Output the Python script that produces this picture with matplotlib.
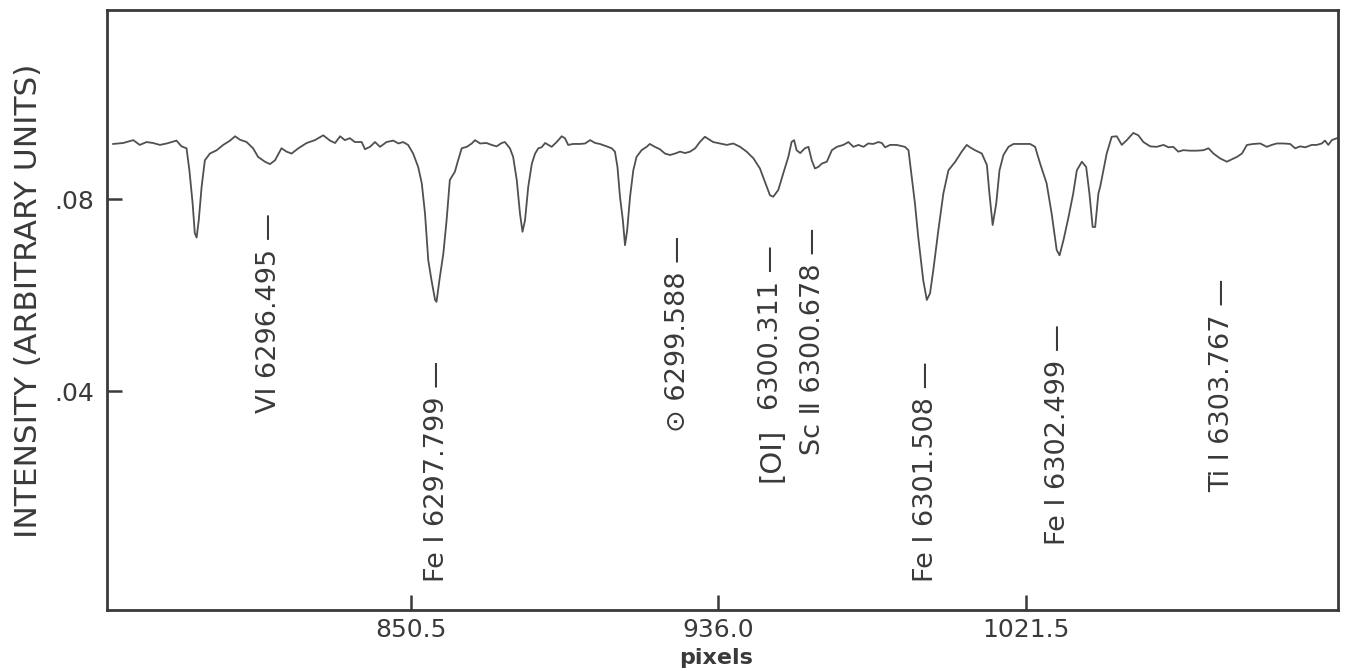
import matplotlib
matplotlib.use("Agg")
from matplotlib import pyplot as plt

# spectrum trace (detector pixel, intensity in arbitrary units)
pixel = [
    767.8, 770.6, 773.4, 775.2, 777.1, 778.9, 780.8, 782.7, 785.4, 786.8,
    788.2, 789.0, 789.9, 790.5, 791.0, 791.6, 792.4, 793.3, 794.7, 796.6,
    798.4, 800.3, 801.7, 803.0, 804.9, 806.7, 808.1, 810.0, 811.4, 812.8,
    814.6, 816.0, 817.4, 819.3,
    821.6, 823.9, 826.2, 828.1, 829.5, 830.9, 832.2, 833.6, 835.0, 836.9,
    837.8, 839.2, 840.6, 842.0, 843.8, 845.7, 847.1, 848.4, 849.8, 851.2,
    852.6, 853.6, 854.5, 855.4, 856.3, 857.3, 857.7, 858.5, 859.6, 860.5,
    861.4, 862.8, 863.7, 864.7, 866.1, 867.5, 868.4, 869.8, 871.6, 873.0,
    874.4, 875.8, 876.7,
    878.1, 879.0, 880.0, 880.9, 881.6, 882.3, 883.2, 884.2, 885.1, 886.0,
    886.9, 887.9, 888.8, 889.7, 891.1, 892.5, 893.4, 894.3, 895.7, 897.6,
    899.0, 900.4, 901.8, 903.1, 905.0, 906.4, 907.3, 908.0, 908.7, 909.5,
    910.1, 910.7, 911.5, 912.4, 913.3, 914.7, 916.1, 917.0, 918.4, 919.8,
    921.2, 922.6, 924.0, 925.4, 926.8, 928.2, 929.6, 930.9, 932.3,
    934.6, 936.5, 938.4, 940.2, 942.1, 943.9, 945.8, 947.6, 949.0, 950.4,
    951.3, 952.7, 954.1, 955.5, 956.4, 957.1, 957.8, 958.8, 960.1, 961.1,
    962.0, 962.9, 963.8, 964.8, 966.2, 967.6, 969.0, 970.8, 972.2, 973.6,
    975.0, 976.4, 977.7, 979.1, 980.5, 981.5, 982.4, 983.8, 985.6,
    987.9, 988.9, 989.8, 990.7, 991.6, 993.0, 994.0, 994.9, 995.8, 997.2,
    998.6, 1000.0, 1001.9, 1003.7, 1005.1, 1006.0, 1007.4, 1009.3, 1010.7, 1011.4,
    1012.3, 1013.3, 1014.2, 1015.3, 1016.7, 1018.1, 1019.9, 1022.7, 1024.1, 1025.5,
    1027.3, 1028.7, 1030.1, 1030.9, 1032.0, 1033.4, 1034.7, 1035.7, 1037.1, 1038.3,
    1039.2, 1040.1, 1040.8, 1041.7,
    1042.2, 1044.0, 1045.4, 1046.8, 1048.2, 1049.6, 1051.4, 1052.8, 1054.2, 1056.1,
    1057.9, 1059.8, 1061.2, 1062.5, 1063.9, 1065.3, 1067.2, 1069.1, 1070.9, 1072.3,
    1073.7, 1075.5, 1077.4, 1078.8, 1080.2, 1081.6, 1083.0, 1084.8, 1086.7, 1088.5,
    1089.9, 1091.3, 1093.1, 1095.0, 1096.4, 1097.8, 1099.2, 1101.0, 1102.4, 1103.8,
    1104.7, 1105.6, 1106.6, 1108.0,
]
intensity = [
    0.0915, 0.0917, 0.0923, 0.0913, 0.0919, 0.0917, 0.0913, 0.0916, 0.0922, 0.0910,
    0.0906, 0.0860, 0.0791, 0.0729, 0.0720, 0.0756, 0.0826, 0.0881, 0.0895, 0.0902,
    0.0913, 0.0922, 0.0931, 0.0924, 0.0919, 0.0906, 0.0888, 0.0878, 0.0873, 0.0881,
    0.0906, 0.0899, 0.0895, 0.0906,
    0.0917, 0.0923, 0.0933, 0.0922, 0.0917, 0.0931, 0.0923, 0.0927, 0.0919, 0.0919,
    0.0904, 0.0909, 0.0919, 0.0909, 0.0919, 0.0922, 0.0916, 0.0919, 0.0913, 0.0895,
    0.0867, 0.0833, 0.0770, 0.0673, 0.0631, 0.0590, 0.0586, 0.0631, 0.0687, 0.0756,
    0.0840, 0.0857, 0.0881, 0.0906, 0.0909, 0.0916, 0.0923, 0.0916, 0.0917, 0.0913,
    0.0910, 0.0917, 0.0919,
    0.0906, 0.0888, 0.0840, 0.0770, 0.0732, 0.0756, 0.0826, 0.0874, 0.0895, 0.0906,
    0.0908, 0.0917, 0.0913, 0.0909, 0.0919, 0.0931, 0.0927, 0.0913, 0.0915, 0.0915,
    0.0916, 0.0923, 0.0917, 0.0915, 0.0910, 0.0906, 0.0899, 0.0867, 0.0805, 0.0756,
    0.0704, 0.0735, 0.0805, 0.0860, 0.0888, 0.0902, 0.0909, 0.0915, 0.0909, 0.0904,
    0.0895, 0.0892, 0.0895, 0.0899, 0.0896, 0.0899, 0.0906, 0.0919, 0.0930,
    0.0919, 0.0916, 0.0913, 0.0916, 0.0909, 0.0899, 0.0885, 0.0864, 0.0836, 0.0808,
    0.0805, 0.0819, 0.0854, 0.0888, 0.0919, 0.0923, 0.0902, 0.0896, 0.0906, 0.0909,
    0.0881, 0.0864, 0.0867, 0.0874, 0.0878, 0.0902, 0.0909, 0.0913, 0.0919, 0.0909,
    0.0913, 0.0909, 0.0916, 0.0915, 0.0919, 0.0917, 0.0908, 0.0913, 0.0913,
    0.0909, 0.0902, 0.0847, 0.0791, 0.0722, 0.0631, 0.0590, 0.0604, 0.0652, 0.0735,
    0.0812, 0.0860, 0.0878, 0.0899, 0.0913, 0.0908, 0.0902, 0.0895, 0.0871, 0.0812,
    0.0746, 0.0791, 0.0860, 0.0892, 0.0909, 0.0915, 0.0915, 0.0915, 0.0909, 0.0874,
    0.0833, 0.0770, 0.0694, 0.0683, 0.0715, 0.0763, 0.0812, 0.0860, 0.0878, 0.0867,
    0.0812, 0.0742, 0.0742, 0.0812,
    0.0826, 0.0895, 0.0930, 0.0931, 0.0913, 0.0923, 0.0938, 0.0933, 0.0919, 0.0910,
    0.0909, 0.0913, 0.0908, 0.0909, 0.0899, 0.0902, 0.0901, 0.0901, 0.0902, 0.0906,
    0.0895, 0.0885, 0.0878, 0.0883, 0.0888, 0.0895, 0.0913, 0.0915, 0.0916, 0.0909,
    0.0913, 0.0916, 0.0916, 0.0915, 0.0906, 0.0910, 0.0908, 0.0913, 0.0913, 0.0916,
    0.0922, 0.0913, 0.0923, 0.0927,
]

# line identifications
line_names = ["V\u2160 6296.495 \u2014", "Fe \u2160 6297.799 \u2014", "\u2299 6299.588 \u2014",
              "6300.311 \u2014", "Sc \u2161 6300.678 \u2014", "Fe \u2160 6301.508 \u2014",
              "Fe \u2160 6302.499 \u2014", "Ti \u2160 6303.767 \u2014"]
line_pixel = [811.0, 857.8, 924.8, 950.7, 962.4, 993.8, 1030.5, 1076.1]
label_base = [0.0354, 0.0002, 0.0315, 0.0360, 0.0267, 0.0002, 0.0079, 0.0190]

x_ticks = [850.5, 936.0, 1021.5]
y_ticks = [0.04, 0.08]
y_ticklabels = [".04", ".08"]

ink = "#3a3a3a"

fig = plt.figure(figsize=(13.53, 6.71), dpi=100)
ax = fig.add_axes([0.0791, 0.091, 0.9098, 0.894])

ax.plot(pixel, intensity, color="#505050", lw=1.3)

for name, xp, yb in zip(line_names, line_pixel, label_base):
    ax.text(xp, yb, name, rotation=90, ha="center", va="bottom",
            fontsize=19.5, color=ink)
# forbidden line bracket
ax.text(line_pixel[3], 0.0210, "[O\u2160]", rotation=90, ha="center", va="bottom",
        fontsize=21, color=ink)

ax.set_xlim(766.1, 1108.3)
ax.set_ylim(-0.0056, 0.1194)
ax.set_xticks(x_ticks)
ax.set_xticklabels(["850.5", "936.0", "1021.5"])
ax.set_yticks(y_ticks)
ax.set_yticklabels(y_ticklabels)
ax.tick_params(direction="in", length=11, width=1.8, color=ink,
               labelsize=18, labelcolor=ink)
ax.tick_params(axis="x", pad=6)
ax.tick_params(axis="y", pad=9)
for s in ax.spines.values():
    s.set_linewidth(2.0)
    s.set_color(ink)

ax.set_ylabel("INTENSITY (ARBITRARY UNITS)", fontsize=22.5, color=ink)
ax.yaxis.set_label_coords(-0.052, 0.515)
ax.set_xlabel("pixels", fontsize=16, fontweight="bold", color=ink)
ax.xaxis.set_label_coords(0.495, -0.064)

fig.savefig("out.png", dpi=100)
